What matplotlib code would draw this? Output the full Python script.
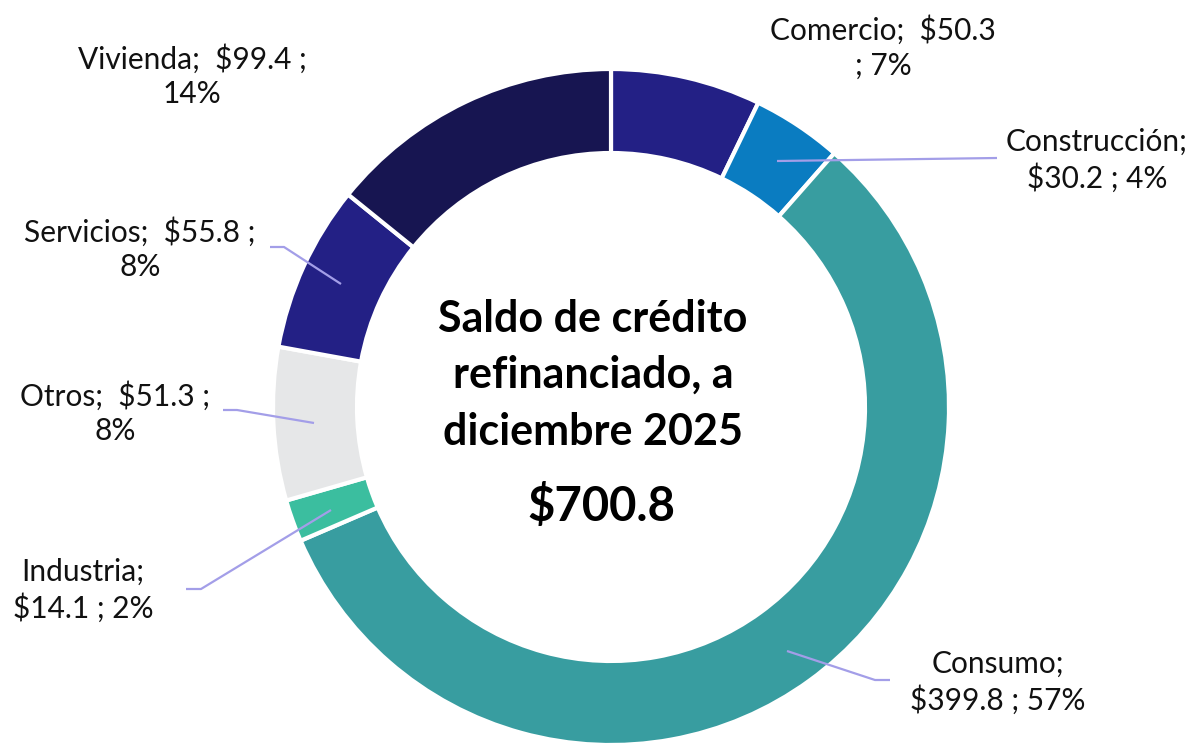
import matplotlib
matplotlib.use("Agg")
import matplotlib.pyplot as plt

categories = ["Comercio", "Construcción", "Consumo", "Industria", "Otros", "Servicios", "Vivienda"]
values = [50.3, 30.2, 399.8, 14.1, 51.3, 55.8, 99.4]
percents = ["7%", "4%", "57%", "2%", "8%", "8%", "14%"]
total_label = "$700.8"
title_lines = ["Saldo de crédito", "refinanciado, a", "diciembre 2025"]
colors = ["#232085", "#0A7CC1", "#389DA0", "#3BBE9F", "#E6E7E8", "#232085", "#171551"]

label_texts = [
    "Comercio;  $50.3\n; 7%",
    "Construcción;\n$30.2 ; 4%",
    "Consumo;\n$399.8 ; 57%",
    "Industria;\n$14.1 ; 2%",
    "Otros;  $51.3 ;\n8%",
    "Servicios;  $55.8 ;\n8%",
    "Vivienda;  $99.4 ;\n14%",
]

W, H = 1196, 748
fig = plt.figure(figsize=(W / 100, H / 100), dpi=100)
ax = fig.add_axes([0, 0, 1, 1])
ax.set_xlim(0, W)
ax.set_ylim(0, H)
ax.set_aspect("equal")
ax.axis("off")

def Y(ypx):
    return H - ypx

cx, cy, R = 611, Y(407), 338
ax.pie(values, colors=colors, startangle=90, counterclock=False,
       center=(cx, cy), radius=R, frame=True,
       wedgeprops=dict(width=84, edgecolor="white", linewidth=3))
ax.set_xlim(0, W)
ax.set_ylim(0, H)
ax.axis("off")

label_pos = [(883, 47), (1097, 160), (998, 682), (83, 590), (115, 413), (140, 249), (192, 76)]
for txt, (x, y) in zip(label_texts, label_pos):
    ax.text(x, Y(y), txt, ha="center", va="center", fontsize=21.5,
            family="Lato", color="#111111", linespacing=1.3)

lc = "#A39EE8"
leaders = [
    [(777, 161), (997, 158)],
    [(787, 651), (875, 680), (890, 680)],
    [(186, 589), (201, 589), (331, 510)],
    [(223, 410), (237, 410), (314, 423)],
    [(270, 247), (284, 247), (341, 284)],
]
for pts in leaders:
    xs = [p[0] for p in pts]
    ys = [Y(p[1]) for p in pts]
    ax.plot(xs, ys, color=lc, lw=1.6, solid_capstyle="butt")

ax.text(593, Y(375), "\n".join(title_lines), ha="center", va="center",
        fontsize=31, fontweight="bold", family="Lato", color="black", linespacing=1.5)
ax.text(601, Y(506), total_label, ha="center", va="center",
        fontsize=34, fontweight="bold", family="Lato", color="black")

fig.savefig("out.png", dpi=100, facecolor="white")
